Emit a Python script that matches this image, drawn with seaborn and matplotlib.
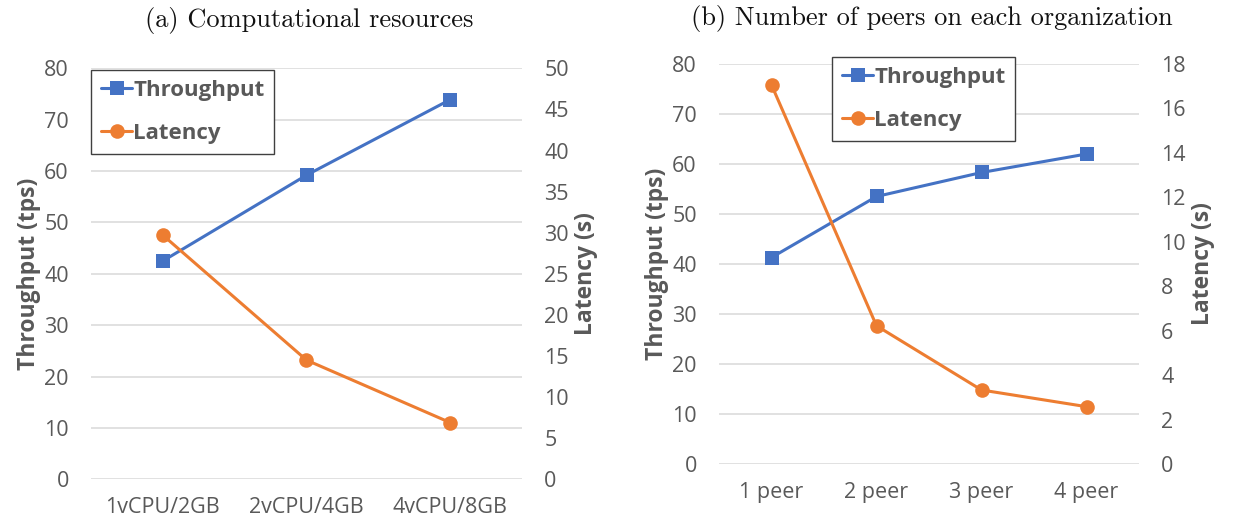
import matplotlib
matplotlib.use("Agg")
import matplotlib.pyplot as plt
import seaborn as sns
import pandas as pd

# ---- data ----
cpu_configs = ["1vCPU/2GB", "2vCPU/4GB", "4vCPU/8GB"]
cpu_throughput = [42.5, 59.2, 73.9]
cpu_latency = [29.7, 14.5, 6.9]

peer_configs = ["1 peer", "2 peer", "3 peer", "4 peer"]
peer_throughput = [41.3, 53.5, 58.3, 62.0]
peer_latency = [17.06, 6.22, 3.33, 2.58]

title_a = "(a) Computational resources"
title_b = "(b) Number of peers on each organization"

BLUE = "#4472C4"
ORANGE = "#ED7D31"
GREY = "#595959"
GRID = "#D9D9D9"
FAM = ["Open Sans", "DejaVu Sans"]

sns.set_theme(style="white")
plt.rcParams["font.family"] = FAM

fig = plt.figure(figsize=(12.35, 5.22), dpi=100)
W, H = 1235, 522


def make_panel(rect, cats, thr, lat, lat_max, lat_step, legend_anchor):
    ax = fig.add_axes(rect)
    ax2 = ax.twinx()
    df = pd.DataFrame({"cfg": cats, "Throughput": thr, "Latency": lat})
    sns.lineplot(data=df, x="cfg", y="Throughput", ax=ax, sort=False,
                 color=BLUE, lw=2.2, marker="s", markersize=10,
                 markeredgewidth=0, label="Throughput", legend=False)
    sns.lineplot(data=df, x="cfg", y="Latency", ax=ax2, sort=False,
                 color=ORANGE, lw=2.2, marker="o", markersize=10.5,
                 markeredgewidth=0, label="Latency", legend=False)
    n = len(cats)
    ax.set_xlim(-0.5, n - 0.5)
    ax.set_ylim(0, 80)
    ax.set_yticks(range(0, 81, 10))
    ax2.set_ylim(0, lat_max)
    ax2.set_yticks(range(0, lat_max + 1, lat_step))
    ax.yaxis.grid(True, color=GRID, lw=1.1)
    ax.xaxis.grid(False)
    ax2.grid(False)
    for a in (ax, ax2):
        for s in a.spines.values():
            s.set_visible(False)
        a.tick_params(axis="both", length=0, labelsize=15.5, labelcolor=GREY)
    ax.tick_params(axis="y", pad=16)
    ax2.tick_params(axis="y", pad=16)
    ax.tick_params(axis="x", pad=13)
    ax.set_xlabel("")
    ax.set_ylabel("Throughput (tps)", fontsize=16.5, fontweight="bold", color=GREY, labelpad=2)
    ax2.set_ylabel("Latency (s)", fontsize=16.5, fontweight="bold", color=GREY, labelpad=4)
    h1, l1 = ax.get_legend_handles_labels()
    h2, l2 = ax2.get_legend_handles_labels()
    leg = ax2.legend(h1 + h2, l1 + l2, loc="upper left", bbox_to_anchor=legend_anchor,
                     frameon=True, fancybox=False, framealpha=1, edgecolor="#404040",
                     prop={"family": FAM, "weight": "bold", "size": 16},
                     labelcolor=GREY, handlelength=1.4, handletextpad=0.05,
                     borderpad=0.45, labelspacing=1.0, borderaxespad=0)
    leg.get_frame().set_linewidth(1.0)
    return ax, ax2


# panel (a): plot area x 91..522, y 68..479
make_panel([91 / W, (H - 479.3) / H, 431 / W, 411 / H],
           cpu_configs, cpu_throughput, cpu_latency, 50, 5, (0.0, 0.996))
# panel (b): plot area x 719..1139, y 64..464
make_panel([719 / W, (H - 464) / H, 420 / W, 400 / H],
           peer_configs, peer_throughput, peer_latency, 18, 2, (0.269, 1.0175))

fig.text(309 / W, 1 - 21 / H, title_a, ha="center", va="center",
         fontsize=19, family="cmr10", color="#111111")
fig.text(932 / W, 1 - 19 / H, title_b, ha="center", va="center",
         fontsize=19, family="cmr10", color="#111111")

fig.savefig("out.png", dpi=100, facecolor="white")
